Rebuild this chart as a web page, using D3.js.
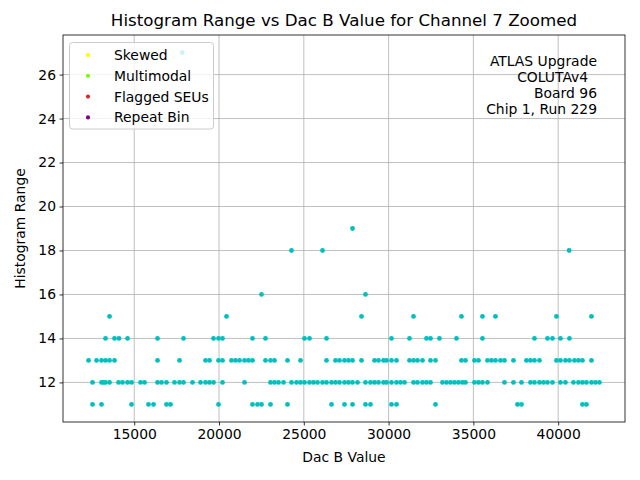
<!DOCTYPE html>
<html><head><meta charset="utf-8">
<script src="https://cdn.jsdelivr.net/npm/d3@7"></script>
<style>
body{margin:0;background:#fff;}
text{font-family:"DejaVu Sans",sans-serif;}
</style></head>
<body>
<svg id="chart" width="640" height="480"></svg>
<script>
// ---- data ----
const rangeLevels = [11, 12, 13, 14, 15, 16, 18, 19, 27];
const dacRange11 = [12541,13072,14841,15843,16138,16904,17140,19970,21975,22270,22506,23036,24039,26633,27399,27871,28637,28932,30170,30465,32765,37599,37835,41432,41668];
const dacRange12 = [12541,13072,13190,13308,13544,14074,14310,14605,14841,15371,15607,16374,16610,16904,17376,17671,17907,18437,18909,19204,19440,19676,20206,21503,23036,23272,23508,23803,24274,24569,24805,25041,25336,25572,25807,26102,26338,26633,26869,27105,27399,27635,27871,28166,28637,28932,29168,29404,29699,29876,30170,30465,30701,30937,31468,31703,31998,32234,32470,33177,33413,33649,33885,34121,34357,34534,35064,35300,35535,35831,36833,37364,37835,38366,38602,38896,39132,39368,39663,40135,40429,40901,41196,41432,41668,41963,42198,42434];
const dacRange13 = [12306,12777,13072,13308,13544,13838,16374,17671,19204,19440,19970,20206,20737,20973,21209,21503,21739,21975,22741,23036,23272,24039,24805,26338,26869,27105,27399,27635,27871,28402,29168,29404,29699,29876,30170,30465,31232,31468,31703,31998,32470,32765,34297,34534,35064,35300,35831,36066,36302,36597,36833,37364,38130,38366,38602,38896,39899,40135,40429,40665,40960,41196,41432,41963];
const dacRange14 = [13308,13838,14098,14605,16374,17907,19676,19970,20206,21975,22741,25041,25336,26338,30170,31232,32234,32470,33000,34003,35535,38602,39368,39663,40135,40665];
const dacRange15 = [13544,20442,28402,31468,34297,35535,36302,39899,41963];
const dacRange16 = [22506,28637];
const dacRange18 = [24274,26102,40647];
const dacRange19 = [27871];
const dacRange27 = [17830];
const xTicks = [15000,20000,25000,30000,35000,40000];
const yTicks = [12,14,16,18,20,22,24,26];
const legendLabels = ["Skewed","Multimodal","Flagged SEUs","Repeat Bin"];
const legendColors = ["#ffff00","#7cfc00","#e02828","#800080"];
const noteLines = ["ATLAS Upgrade","COLUTAv4  "," Board 96","Chip 1, Run 229"];

const dacByLevel = [dacRange11,dacRange12,dacRange13,dacRange14,dacRange15,dacRange16,dacRange18,dacRange19,dacRange27];
const points = [];
rangeLevels.forEach((lv,i)=>dacByLevel[i].forEach(d=>points.push({x:d,y:lv})));

// ---- layout ----
const L=63, R=625, T=35, B=422;
const svg=d3.select("#chart");
const xExt=d3.extent(points,d=>d.x), yExt=d3.extent(points,d=>d.y);
const xPad=(xExt[1]-xExt[0])*0.05, yPad=(yExt[1]-yExt[0])*0.05;
const x=d3.scaleLinear().domain([xExt[0]-xPad,xExt[1]+xPad]).range([L,R]);
const y=d3.scaleLinear().domain([yExt[0]-yPad,yExt[1]+yPad]).range([B,T]);

// grid
const grid=svg.append("g");
grid.selectAll("line.vx").data(xTicks).join("line")
  .attr("x1",d=>x(d)).attr("x2",d=>x(d)).attr("y1",T).attr("y2",B)
  .attr("stroke","#b0b0b0").attr("stroke-width",0.8);
grid.selectAll("line.hy").data(yTicks).join("line")
  .attr("x1",L).attr("x2",R).attr("y1",d=>y(d)).attr("y2",d=>y(d))
  .attr("stroke","#b0b0b0").attr("stroke-width",0.8);

// points
svg.append("g").selectAll("circle").data(points).join("circle")
  .attr("cx",d=>x(d.x)).attr("cy",d=>y(d.y)).attr("r",2.4)
  .attr("fill","#00bfbf");

// axes
const xAxis=d3.axisBottom(x).tickValues(xTicks).tickFormat(d3.format("d")).tickSizeOuter(0).tickSize(3.5).tickPadding(3.5);
const yAxis=d3.axisLeft(y).tickValues(yTicks).tickFormat(d3.format("d")).tickSizeOuter(0).tickSize(3.5).tickPadding(3.5);
const gx=svg.append("g").attr("transform",`translate(0,${B})`).call(xAxis);
const gy=svg.append("g").attr("transform",`translate(${L},0)`).call(yAxis);
[gx,gy].forEach(g=>{
  g.select(".domain").remove();
  g.selectAll("line").attr("stroke","#000").attr("stroke-width",0.8);
  g.selectAll("text").attr("font-family","DejaVu Sans").attr("font-size",13.9).attr("fill","#000");
});
svg.append("rect").attr("x",L).attr("y",T).attr("width",R-L).attr("height",B-T)
  .attr("fill","none").attr("stroke","#000").attr("stroke-width",0.8);

// labels
svg.append("text").attr("x",(L+R)/2).attr("y",26).attr("text-anchor","middle")
  .attr("font-size",16.7).text("Histogram Range vs Dac B Value for Channel 7 Zoomed");
svg.append("text").attr("x",(L+R)/2).attr("y",462).attr("text-anchor","middle")
  .attr("font-size",13.9).text("Dac B Value");
svg.append("text").attr("transform",`translate(25,${(T+B)/2}) rotate(-90)`).attr("text-anchor","middle")
  .attr("font-size",13.9).text("Histogram Range");

// legend
const lg=svg.append("g");
lg.append("rect").attr("x",69.5).attr("y",42.5).attr("width",144).attr("height",86.5).attr("rx",3)
  .attr("fill","#fff").attr("fill-opacity",0.8).attr("stroke","#cccccc").attr("stroke-width",1);
legendLabels.forEach((lab,i)=>{
  const cy=55+i*20.8;
  lg.append("circle").attr("cx",88).attr("cy",cy).attr("r",2.1).attr("fill",legendColors[i]);
  lg.append("text").attr("x",114).attr("y",cy+5).attr("font-size",13.9).text(lab);
});

// annotation
noteLines.forEach((t,i)=>{
  svg.append("text").attr("x",597).attr("y",66+i*16).attr("text-anchor","end")
    .attr("font-size",13.9).style("white-space","pre").text(t);
});
</script>
</body></html>
